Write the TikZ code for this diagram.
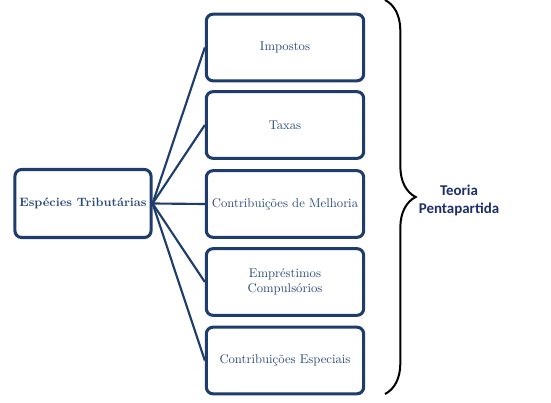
\documentclass[tikz,border=0pt]{standalone}
\usepackage{fontspec}
\newfontfamily\calfont{Carlito}
\usetikzlibrary{positioning,calc,shadows,decorations.pathreplacing}
\definecolor{Navy}{HTML}{1F3D6C}
\definecolor{Ink}{HTML}{2C4A7C}
\definecolor{Deep}{HTML}{1A2F6B}

\begin{document}
\begin{tikzpicture}[x=0.75pt,y=-0.75pt,
    especie/.style={draw=Navy,line width=2.3pt,rounded corners=5pt,fill=white,
      minimum width=118pt,minimum height=50pt,align=center,text=Ink,font=\fontsize{9.5}{11}\selectfont,
      drop shadow={shadow xshift=0.6pt,shadow yshift=-0.8pt,opacity=0.25}},
    raiz/.style={especie,minimum width=102pt,minimum height=51pt,font=\bfseries\fontsize{9.1}{11}\selectfont},
    ramo/.style={Navy,line width=1.6pt}]
        \useasboundingbox (0,0) rectangle (551,403);
        \node[raiz] (raiz) at (83,203.5) {Espécies Tributárias};
        \foreach \n/\y/\t in {imp/47.5/Impostos,tax/125/Taxas,mel/204/Contribuições de Melhoria,
            emp/282/{Empréstimos\\Compulsórios},esp/360.5/Contribuições Especiais}
          \node[especie] (\n) at (285,\y) {\t};
        \foreach \n in {imp,tax,mel,emp,esp}
          \draw[ramo] (raiz.east) -- (\n.west);
        \coordinate (chaveA) at (385,0);
        \coordinate (chaveB) at (385,394);
        \draw[line width=1.5pt,decorate,decoration={brace,amplitude=23pt}] (chaveA) -- (chaveB);
        \node[align=center,text=Deep,font=\calfont\bfseries\fontsize{11.2}{13.5}\selectfont] (teoria) at (459,200) {Teoria\\Pentapartida};
      \end{tikzpicture}
\end{document}
